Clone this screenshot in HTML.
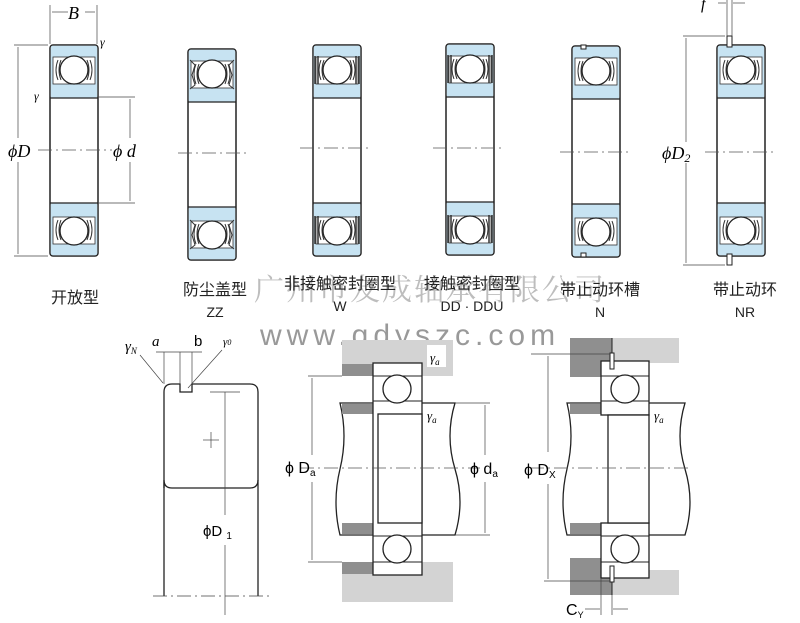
<!DOCTYPE html>
<html><head><meta charset="utf-8"><style>
html,body{margin:0;padding:0;background:#fff}
svg{display:block}
text{font-family:"Liberation Sans","Noto Sans CJK SC",sans-serif}
.s{font-family:"Liberation Serif","Noto Serif CJK SC",serif;font-style:italic}
.cn{font-family:"Noto Serif CJK SC","Noto Sans CJK SC",serif}
</style></head><body>
<svg width="800" height="623" viewBox="0 0 800 623" xmlns="http://www.w3.org/2000/svg">
<defs>
<g id="brg">
  <rect x="0" y="0" width="48" height="211" rx="3" fill="#fff" stroke="#222" stroke-width="1.5"/>
  <rect x="0.8" y="0.8" width="46.4" height="52" rx="2" fill="#c7e3f2"/>
  <rect x="0.8" y="158.2" width="46.4" height="52" rx="2" fill="#c7e3f2"/>
  <rect x="3" y="12" width="42" height="27" fill="#fff" stroke="#333" stroke-width="0.8"/>
  <rect x="3" y="172" width="42" height="27" fill="#fff" stroke="#333" stroke-width="0.8"/>
  <line x1="0" y1="53" x2="48" y2="53" stroke="#222" stroke-width="1.3"/>
  <line x1="0" y1="158" x2="48" y2="158" stroke="#222" stroke-width="1.3"/>
  <path d="M8 15 q-4 10 0 20 M11 15 q-4 10 0 20 M40 15 q4 10 0 20 M37 15 q4 10 0 20" fill="none" stroke="#333" stroke-width="1"/>
  <path d="M8 175 q-4 10 0 20 M11 175 q-4 10 0 20 M40 175 q4 10 0 20 M37 175 q4 10 0 20" fill="none" stroke="#333" stroke-width="1"/>
  <circle cx="24" cy="25" r="14" fill="#fff" stroke="#222" stroke-width="1.3"/>
  <circle cx="24" cy="186" r="14" fill="#fff" stroke="#222" stroke-width="1.3"/>
</g>
</defs>

<use href="#brg" x="50" y="45"/>
<use href="#brg" x="188" y="49"/>
<use href="#brg" x="313" y="45"/>
<use href="#brg" x="446" y="44"/>
<use href="#brg" x="572" y="46"/>
<use href="#brg" x="717" y="45"/>
<g stroke="#333" stroke-width="1" fill="none">
<path d="M190 60 l5 5 l-3 10 l3 10 l-5 4 M234 60 l-5 5 l3 10 l-3 10 l5 4 M190 220 l5 5 l-3 10 l3 10 l-5 4 M234 220 l-5 5 l3 10 l-3 10 l5 4"/>
<path d="M315 56 v28 M318 56 v28 M359 56 v28 M356 56 v28 M315 216 v28 M318 216 v28 M359 216 v28 M356 216 v28" stroke-width="1.5"/>
<path d="M448 55 v28 M451 55 v28 M492 55 v28 M489 55 v28 M448 215 v28 M451 215 v28 M492 215 v28 M489 215 v28" stroke-width="1.5"/>
</g>
<g fill="#fff" stroke="#222" stroke-width="1">
<rect x="581" y="45" width="5" height="4"/><rect x="581" y="253" width="5" height="4"/>
<rect x="727" y="36" width="5" height="11"/><rect x="727" y="254" width="5" height="11"/>
</g>

<g stroke="#555" stroke-width="0.8" stroke-dasharray="14,4,2,4">
<line x1="38" y1="150" x2="112" y2="150"/>
<line x1="178" y1="153" x2="248" y2="153"/>
<line x1="300" y1="148" x2="372" y2="148"/>
<line x1="433" y1="148" x2="503" y2="148"/>
<line x1="560" y1="152" x2="630" y2="152"/>
<line x1="705" y1="152" x2="775" y2="152"/>
</g>

<g stroke="#444" stroke-width="0.7" fill="none">
<line x1="50" y1="5" x2="50" y2="44"/><line x1="97" y1="5" x2="97" y2="44"/>
<line x1="52" y1="12" x2="68" y2="12"/><line x1="85" y1="12" x2="95" y2="12"/>
<line x1="14" y1="45" x2="48" y2="45"/><line x1="14" y1="256" x2="48" y2="256"/>
<line x1="18" y1="47" x2="18" y2="138"/><line x1="18" y1="162" x2="18" y2="254"/>
<line x1="98" y1="97" x2="135" y2="97"/><line x1="98" y1="203" x2="135" y2="203"/>
<line x1="130" y1="99" x2="130" y2="138"/><line x1="130" y1="162" x2="130" y2="201"/>
<line x1="683" y1="36" x2="725" y2="36"/><line x1="683" y1="265" x2="725" y2="265"/>
<line x1="686" y1="38" x2="686" y2="142"/><line x1="686" y1="163" x2="686" y2="263"/>
<line x1="727" y1="0" x2="727" y2="36"/><line x1="732" y1="0" x2="732" y2="36"/>
<line x1="718" y1="3" x2="726" y2="3"/><line x1="733" y1="3" x2="745" y2="3"/>
</g>
<g font-size="18">
<text class="s" x="68" y="19">B</text>
<text class="s" x="8" y="157">ϕ<tspan>D</tspan></text>
<text class="s" x="113" y="157">ϕ <tspan>d</tspan></text>
<text class="s" x="662" y="159">ϕ<tspan>D</tspan><tspan font-size="12" dy="3">2</tspan></text>
<text class="s" x="701" y="9" font-size="16">f</text>
<text class="s" x="100" y="46" font-size="12">γ</text>
<text class="s" x="34" y="100" font-size="12">γ</text>
</g>

<text class="cn" x="254" y="300" font-size="30" fill="#bdbdbd" letter-spacing="2">广州市友成轴承有限公司</text>
<text x="260" y="345" font-size="30" fill="#999" letter-spacing="5">www.gdyszc.com</text>

<g font-size="16" fill="#222" class="cn" text-anchor="middle">
<text x="75" y="303">开放型</text>
<text x="215" y="295">防尘盖型</text>
<text x="340" y="289">非接触密封圈型</text>
<text x="472" y="289">接触密封圈型</text>
<text x="600" y="295">带止动环槽</text>
<text x="745" y="295">带止动环</text>
</g>
<g font-size="14" fill="#222" text-anchor="middle">
<text x="215" y="317">ZZ</text>
<text x="340" y="311">W</text>
<text x="472" y="311">DD · DDU</text>
<text x="600" y="317">N</text>
<text x="745" y="317">NR</text>
</g>

<!-- bottom left detail -->
<g stroke="#222" stroke-width="1.3" fill="none">
<path d="M164 488 V392 q0 -8 8 -8 h8 v8 h12 v-8 h58 q8 0 8 8 V480 q0 8 -8 8 H172 q-8 0 -8 -8"/>
<line x1="164" y1="480" x2="164" y2="596"/><line x1="258" y1="480" x2="258" y2="596"/>
</g>
<g stroke="#444" stroke-width="0.7" fill="none">
<line x1="153" y1="596" x2="270" y2="596" stroke-dasharray="14,4,2,4"/>
<line x1="225" y1="392" x2="225" y2="515"/><line x1="225" y1="545" x2="225" y2="615"/>
<line x1="210" y1="392" x2="240" y2="392"/>
<line x1="203" y1="440" x2="219" y2="440"/><line x1="211" y1="432" x2="211" y2="448"/>
<line x1="164" y1="352" x2="164" y2="384"/><line x1="180" y1="352" x2="180" y2="384"/><line x1="192" y1="352" x2="192" y2="384"/>
<line x1="156" y1="352" x2="202" y2="352"/>
<line x1="140" y1="355" x2="163" y2="383"/><line x1="222" y1="350" x2="188" y2="388"/>
</g>
<g font-size="15">
<text x="125" y="351" class="s">γ<tspan font-size="9" dy="3">N</tspan></text>
<text x="152" y="346" class="s">a</text>
<text x="194" y="346">b</text>
<text x="223" y="345" class="s" font-size="11">γ<tspan font-size="8">0</tspan></text>
<text x="203" y="536">ϕD <tspan font-size="10" dy="3">1</tspan></text>
</g>

<!-- bottom middle -->
<rect x="342" y="340" width="111" height="262" fill="#d3d3d3"/>
<rect x="342" y="376" width="111" height="186" fill="#fff"/>
<path d="M340 403 H455 q-10 33 0 66 q10 33 0 66 H340 q-8 -33 0 -66 q8 -33 0 -66Z" fill="#fff" stroke="#222" stroke-width="1.3"/>
<g fill="#8f8f8f">
<rect x="342" y="364" width="31" height="12"/><rect x="342" y="404" width="31" height="10"/>
<rect x="342" y="523" width="31" height="11"/><rect x="342" y="562" width="31" height="12"/>
</g>
<rect x="373" y="363" width="49" height="212" fill="#fff" stroke="#222" stroke-width="1.3"/>
<rect x="378" y="414" width="44" height="109" fill="#fff" stroke="#222" stroke-width="1.3"/>
<line x1="373" y1="376" x2="422" y2="376" stroke="#222"/><line x1="373" y1="401" x2="422" y2="401" stroke="#222"/>
<line x1="373" y1="536" x2="422" y2="536" stroke="#222"/><line x1="373" y1="562" x2="422" y2="562" stroke="#222"/>
<circle cx="397" cy="389" r="14" fill="#fff" stroke="#222" stroke-width="1.3"/>
<circle cx="397" cy="549" r="14" fill="#fff" stroke="#222" stroke-width="1.3"/>
<rect x="427" y="345" width="19" height="22" fill="#fff"/>
<line x1="300" y1="468" x2="480" y2="468" stroke="#555" stroke-width="0.8" stroke-dasharray="14,4,2,4"/>
<g stroke="#444" stroke-width="0.7">
<line x1="308" y1="376" x2="342" y2="376"/><line x1="308" y1="562" x2="342" y2="562"/>
<line x1="312" y1="378" x2="312" y2="455"/><line x1="312" y1="482" x2="312" y2="560"/>
<line x1="455" y1="403" x2="490" y2="403"/><line x1="455" y1="535" x2="490" y2="535"/>
<line x1="485" y1="405" x2="485" y2="455"/><line x1="485" y1="482" x2="485" y2="533"/>
</g>
<g font-size="16">
<text x="285" y="473">ϕ D<tspan font-size="10" dy="3">a</tspan></text>
<text x="470" y="474">ϕ d<tspan font-size="10" dy="3">a</tspan></text>
<text x="430" y="362" class="s" font-size="13">γ<tspan font-size="9" dy="3">a</tspan></text>
<text x="427" y="420" class="s" font-size="13">γ<tspan font-size="9" dy="3">a</tspan></text>
</g>

<!-- bottom right -->
<rect x="570" y="338" width="109" height="257" fill="#d3d3d3"/>
<rect x="570" y="338" width="42" height="257" fill="#8f8f8f"/>
<rect x="612" y="363" width="67" height="207" fill="#fff"/>
<rect x="570" y="377" width="42" height="181" fill="#fff"/>
<path d="M567 403 H685 q-10 33 0 66 q10 33 0 66 H567 q-8 -33 0 -66 q8 -33 0 -66Z" fill="#fff" stroke="#222" stroke-width="1.3"/>
<g fill="#8f8f8f">
<rect x="570" y="404" width="31" height="10"/><rect x="570" y="523" width="31" height="11"/>
</g>
<rect x="601" y="361" width="48" height="54" fill="#fff" stroke="#222" stroke-width="1.3"/>
<rect x="601" y="523" width="48" height="55" fill="#fff" stroke="#222" stroke-width="1.3"/>
<rect x="608" y="415" width="41" height="108" fill="#fff" stroke="#222" stroke-width="1.3"/>
<line x1="601" y1="376" x2="649" y2="376" stroke="#222"/><line x1="601" y1="401" x2="649" y2="401" stroke="#222"/>
<line x1="601" y1="536" x2="649" y2="536" stroke="#222"/><line x1="601" y1="562" x2="649" y2="562" stroke="#222"/>
<circle cx="625" cy="389" r="14" fill="#fff" stroke="#222" stroke-width="1.3"/>
<circle cx="625" cy="549" r="14" fill="#fff" stroke="#222" stroke-width="1.3"/>
<rect x="610" y="353" width="4" height="16" fill="#fff" stroke="#222"/>
<rect x="610" y="566" width="4" height="16" fill="#fff" stroke="#222"/>
<line x1="612" y1="338" x2="612" y2="353" stroke="#222"/><line x1="612" y1="582" x2="612" y2="595" stroke="#222"/>
<line x1="530" y1="468" x2="690" y2="468" stroke="#555" stroke-width="0.8" stroke-dasharray="14,4,2,4"/>
<g stroke="#444" stroke-width="0.7">
<line x1="531" y1="354" x2="610" y2="354"/><line x1="544" y1="581" x2="610" y2="581"/>
<line x1="548" y1="356" x2="548" y2="452"/><line x1="548" y1="484" x2="548" y2="579"/>
<line x1="601" y1="578" x2="601" y2="615"/><line x1="612" y1="595" x2="612" y2="615"/>
<line x1="585" y1="609" x2="600" y2="609"/><line x1="613" y1="609" x2="628" y2="609"/>
</g>
<g font-size="16">
<text x="524" y="475">ϕ D<tspan font-size="10" dy="3">X</tspan></text>
<text x="566" y="615">C<tspan font-size="9" dy="3">Y</tspan></text>
<text x="654" y="420" class="s" font-size="13">γ<tspan font-size="9" dy="3">a</tspan></text>
</g>
</svg>
</body></html>
